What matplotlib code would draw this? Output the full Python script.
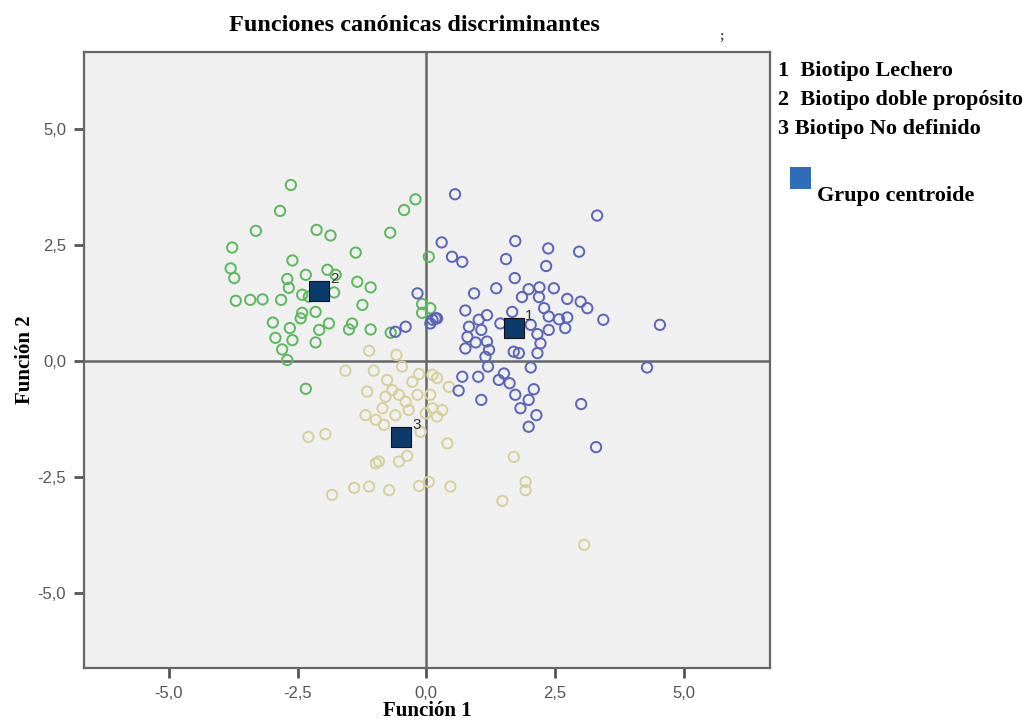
import numpy as np
import matplotlib.pyplot as plt
from matplotlib.patches import Rectangle

# puntuaciones discriminantes por grupo (Funcion 1, Funcion 2)
lechero_f1 = [0.56, 3.32, 0.30, 1.73, 2.37, 2.97, 0.50, 0.70, 1.55, 2.33, 1.72, -0.17, 0.93, 1.36,
              1.99, 2.20, 2.48, 1.86, 2.19, 2.74, 3.00, 3.13, 0.76, 1.67, 2.29, 2.38, 2.58, 2.74,
              3.44, 1.18, 1.02, 0.83, 1.07, 2.03, 2.16, 2.38, 2.70, 1.44, 0.80, 0.96, 1.18, 1.22,
              0.76, 2.22, 2.16, 1.70, 1.80, 1.15, 1.20, 2.03, 4.29, 0.70, 1.01, 1.41, 1.51, 1.62,
              2.09, 0.63, 1.73, 1.99, 1.07, 3.01, 1.83, 2.14, 1.99, -0.40, 0.18, 0.08, -0.60,
              0.12, 0.21, 4.54, 3.30]
lechero_f2 = [3.60, 3.14, 2.56, 2.59, 2.43, 2.36, 2.25, 2.14, 2.20, 2.05, 1.79, 1.46, 1.46, 1.57,
              1.55, 1.59, 1.57, 1.38, 1.38, 1.34, 1.28, 1.14, 1.09, 1.06, 1.14, 0.96, 0.90, 0.94,
              0.89, 0.99, 0.89, 0.74, 0.67, 0.78, 0.58, 0.67, 0.71, 0.81, 0.52, 0.40, 0.42, 0.24,
              0.27, 0.38, 0.17, 0.20, 0.17, 0.09, -0.12, -0.14, -0.14, -0.34, -0.34, -0.41, -0.27,
              -0.48, -0.61, -0.64, -0.73, -0.84, -0.84, -0.93, -1.02, -1.17, -1.42, 0.74, 0.92,
              0.81, 0.63, 0.89, 0.92, 0.78, -1.86]

doble_f1 = [-2.63, -2.84, -3.31, -2.13, -1.86, -0.70, -0.21, -0.43, -3.77, -1.37, -2.60, -3.80,
            -3.73, -1.92, -2.34, -2.70, -2.67, -1.76, -1.34, -1.08, -3.70, -3.42, -3.18, -2.82,
            -2.41, -2.28, -1.79, -1.24, -2.15, -2.41, -2.44, -2.98, -2.65, -1.89, -2.08, -1.44,
            -1.50, -1.08, -0.69, -2.93, -2.60, -2.15, -2.80, -2.70, 0.05, -0.08, 0.08, -0.08,
            -2.34]
doble_f2 = [3.80, 3.24, 2.81, 2.83, 2.71, 2.77, 3.49, 3.26, 2.45, 2.34, 2.17, 2.00, 1.79, 1.97,
            1.86, 1.77, 1.58, 1.86, 1.71, 1.59, 1.30, 1.32, 1.33, 1.32, 1.43, 1.39, 1.48, 1.21,
            1.06, 1.04, 0.92, 0.83, 0.71, 0.81, 0.67, 0.81, 0.68, 0.68, 0.61, 0.50, 0.45, 0.40,
            0.25, 0.02, 2.25, 1.23, 1.14, 1.04, -0.60]

nodef_f1 = [-1.11, -0.58, -1.57, -1.02, -0.47, -0.14, 0.12, 0.21, -0.27, -1.15, -0.66, -0.53,
            -0.79, -0.40, 0.44, 0.12, -0.01, 0.21, -0.85, -0.34, -1.18, -0.98, -0.82, -0.60,
            -0.11, -2.29, -1.96, 0.41, -0.37, -0.53, -0.98, -0.92, 1.70, -1.40, -1.11, -0.72,
            -1.83, -0.14, 0.05, 0.47, 1.93, 1.93, 1.48, 3.07, -0.76, -0.17, 0.08, 0.31]
nodef_f2 = [0.22, 0.13, -0.21, -0.21, -0.12, -0.28, -0.30, -0.37, -0.45, -0.66, -0.63, -0.73,
            -0.77, -0.88, -0.56, -1.02, -1.13, -1.20, -1.02, -1.06, -1.17, -1.27, -1.38, -1.17,
            -1.53, -1.64, -1.58, -1.78, -2.05, -2.17, -2.21, -2.17, -2.07, -2.74, -2.71, -2.79,
            -2.89, -2.70, -2.61, -2.71, -2.61, -2.79, -3.02, -3.97, -0.41, -0.73, -0.73, -1.06]

centroide_f1 = [1.71, -2.08, -0.49]
centroide_f2 = [0.71, 1.51, -1.64]
centroide_lab = ['1', '2', '3']

ticks = [-5.0, -2.5, 0.0, 2.5, 5.0]
tick_labels = ['-5,0', '-2,5', '0,0', '2,5', '5,0']

leyenda = ['1  Biotipo Lechero', '2  Biotipo doble propósito', '3 Biotipo No definido']

serif = ['Liberation Serif', 'DejaVu Serif']
sans = ['Liberation Sans', 'DejaVu Sans']
gris = '#555555'

fig = plt.figure(figsize=(10.24, 7.23), dpi=100)
ax = fig.add_axes([0.082, 0.076, 0.670, 0.852])
ax.set_facecolor('#f0f0f0')

ax.axhline(0, color='#666666', lw=1.8, zorder=1)
ax.axvline(0, color='#666666', lw=1.8, zorder=1)

ax.scatter(nodef_f1, nodef_f2, s=55, facecolors='none', edgecolors='#d6d09a', linewidths=1.4, zorder=2)
ax.scatter(doble_f1, doble_f2, s=55, facecolors='none', edgecolors='#5cb85c', linewidths=1.4, zorder=3)
ax.scatter(lechero_f1, lechero_f2, s=55, facecolors='none', edgecolors='#5a64b8', linewidths=1.4, zorder=4)

ax.scatter(centroide_f1, centroide_f2, s=190, marker='s', color='#0d3a6c', edgecolors='#111111',
           linewidths=0.8, zorder=5)
for cx, cy, lab in zip(centroide_f1, centroide_f2, centroide_lab):
    ax.annotate(lab, (cx, cy), xytext=(8, 6), textcoords='offset points', fontsize=11,
                family=sans, color='#333333', zorder=6)

ax.set_xlim(-6.65, 6.68)
ax.set_ylim(-6.63, 6.67)
ax.set_xticks(ticks)
ax.set_xticklabels(tick_labels, family=sans)
ax.set_yticks(ticks)
ax.set_yticklabels(tick_labels, family=sans)
ax.tick_params(direction='out', length=7, width=2, color=gris, labelcolor=gris, labelsize=12, pad=6)
for sp in ax.spines.values():
    sp.set_color('#666666')
    sp.set_linewidth(1.6)

ax.set_xlabel('Función 1', family=serif, fontweight='bold', fontsize=15, labelpad=0)
ax.set_ylabel('Función 2', family=serif, fontweight='bold', fontsize=15, labelpad=2)

fig.text(0.405, 0.965, 'Funciones canónicas discriminantes', family=serif, fontweight='bold',
         fontsize=17.5, ha='center', va='center')
fig.text(0.705, 0.950, ';', family=serif, fontweight='bold', fontsize=10, ha='center', va='center',
         color='#444444')

for i, txt in enumerate(leyenda):
    fig.text(0.760, 0.902 - i * 0.040, txt, family=serif, fontweight='bold', fontsize=16,
             ha='left', va='center')
fig.patches.append(Rectangle((0.771, 0.739), 0.021, 0.030, transform=fig.transFigure,
                             facecolor='#2f6db8', edgecolor='none', figure=fig))
fig.text(0.798, 0.729, 'Grupo centroide', family=serif, fontweight='bold', fontsize=16,
         ha='left', va='center')

fig.savefig('out.png', dpi=100)
